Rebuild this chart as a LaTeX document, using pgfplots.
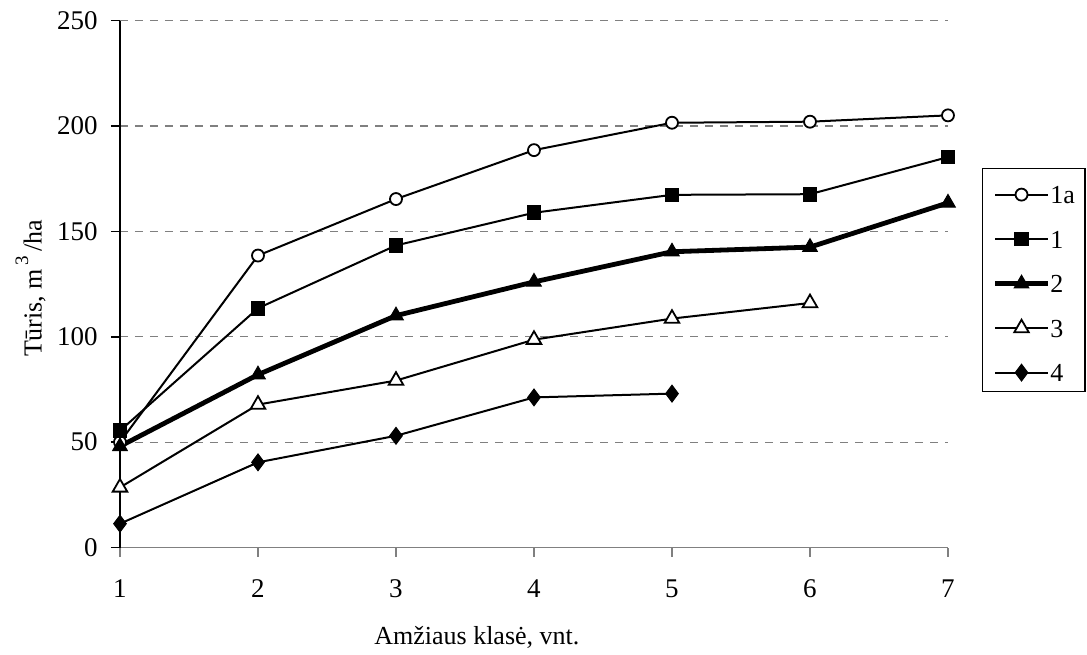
\documentclass[border=0pt]{standalone}
\usepackage{pgfplots}
\pgfplotsset{compat=1.18}
\usepackage{fontspec}
\setmainfont{Liberation Serif}
\begin{document}
\fontsize{13}{15}\selectfont
\begin{tikzpicture}
\begin{axis}[
  at={(0,0)}, anchor=south west,
  scale only axis, width=414pt, height=263.5pt,
  font=\fontsize{13}{15}\selectfont,
  xmin=1, xmax=7, ymin=0, ymax=250,
  xtick={1,2,3,4,5,6,7}, ytick={0,50,100,150,200,250},
  axis x line=bottom, axis y line=left,
  x axis line style={-, gray, line width=0.8pt},
  y axis line style={-, black, line width=0.8pt},
  tick align=outside, major tick length=4.5pt,
  x tick style={gray, line width=0.8pt},
  y tick style={black, line width=0.8pt},
  ymajorgrids, grid style={dashed, gray, line width=0.6pt, dash pattern=on 4pt off 3.5pt},
  /pgf/number format/assume math mode=true,
  ticklabel style={font=\fontsize{13.5}{15}\selectfont},
  yticklabel style={anchor=east, inner sep=0pt, xshift=-6.5pt},
  xticklabel style={anchor=north, inner sep=0pt, yshift=-11.5pt},
  clip=false,
  xlabel={Amžiaus klasė, vnt.},
  xlabel style={at={(axis description cs:0.431,-0.185)}, anchor=base, inner sep=0pt},
  ylabel={Tūris, m\hspace{1.5pt}\raisebox{1.15ex}{\fontsize{9.5}{10}\selectfont 3}\hspace{2.5pt}/ha},
  ylabel style={at={(axis description cs:-0.108,0.492)}, anchor=center, rotate=0, inner sep=0pt},
  legend style={at={(axis description cs:1.0411,0.7201)}, anchor=north west,
    draw=black, line width=0.6pt, inner xsep=5pt, inner ysep=0pt, row sep=0pt,
    nodes={inner sep=0pt, anchor=base west, text height=17.5pt, text depth=4.75pt},
    /tikz/every even column/.append style={column sep=2.5pt}},
  legend cell align=left,
  legend image code/.code={\draw[mark repeat=2,mark phase=2] plot coordinates {(0pt,4.5pt) (13.25pt,4.5pt) (26.5pt,4.5pt)};},
]
\addplot[black, line width=1pt, mark=*, mark size=3pt, mark options={fill=white, line width=0.9pt}]
  coordinates {(1,50) (2,138.5) (3,165.3) (4,188.5) (5,201.5) (6,202) (7,205)};
\addlegendentry{1a}
\addplot[black, line width=1pt, mark=square*, mark size=3.4pt, mark options={fill=black, line width=0.5pt}]
  coordinates {(1,55.4) (2,113.5) (3,143.3) (4,158.8) (5,167.3) (6,167.6) (7,185.2)};
\addlegendentry{1}
\addplot[black, line width=2.4pt, mark=triangle*, mark size=4.2pt, mark options={fill=black, line width=0.5pt}]
  coordinates {(1,48) (2,82) (3,110) (4,126) (5,140.3) (6,142.5) (7,163.5)};
\addlegendentry{2}
\addplot[black, line width=1pt, mark=triangle*, mark size=4.2pt, mark options={fill=white, line width=0.9pt}]
  coordinates {(1,28.5) (2,67.8) (3,79.2) (4,98.6) (5,108.6) (6,116)};
\addlegendentry{3}
\addplot[black, line width=1pt, mark=diamond*, mark size=4.2pt, mark options={fill=black, line width=0.5pt}]
  coordinates {(1,11.3) (2,40.4) (3,53) (4,71.2) (5,73)};
\addlegendentry{4}
\end{axis}
\pgfresetboundingbox
\path[use as bounding box] (-60pt,-53.25pt) rectangle (483.5pt,273.75pt);
\end{tikzpicture}
\end{document}
